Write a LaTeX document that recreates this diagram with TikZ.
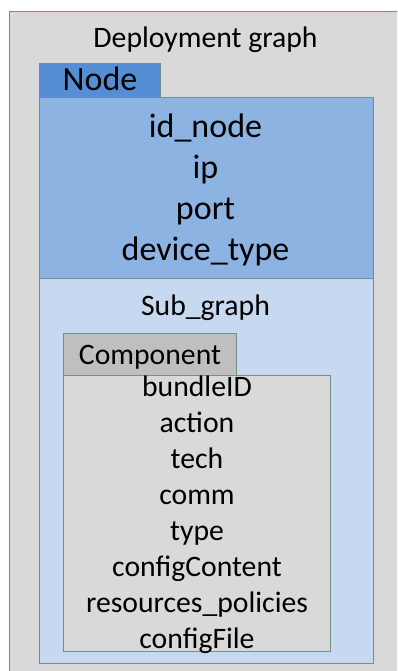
\documentclass[tikz,border=0pt]{standalone}
\usepackage{fontspec}
\setmainfont{Carlito}
\definecolor{edgegray}{HTML}{728F8A}
\definecolor{outergray}{HTML}{D9D9D9}
\definecolor{tabblue}{HTML}{558ED5}
\definecolor{nodeblue}{HTML}{8DB3E2}
\definecolor{subblue}{HTML}{C6D9F1}
\definecolor{tabgray}{HTML}{BFBFBF}
\begin{document}
\begin{tikzpicture}[x=1pt, y=-1pt,
    box/.style={draw=edgegray, line width=0.9pt},
    bigtext/.style={anchor=base, font=\fontsize{34}{40}\selectfont},
    midtext/.style={anchor=base, font=\fontsize{29.7}{36}\selectfont}]
      \useasboundingbox (0, 0) rectangle (397, 671);
      \clip (0, 0) rectangle (397, 671);

      % outer frame
      \draw[box, fill=outergray] (9, 11) rectangle (405, 680);
      \node[midtext] (title) at (205.5, 47.5) {Deployment graph};

      % node
      \draw[box, fill=tabblue] (39, 63) rectangle (160, 97);
      \node[bigtext] (nodetab) at (100, 91) {Node};
      \draw[box, fill=nodeblue] (39, 97) rectangle (373, 278);
      \draw[box, fill=subblue] (39, 278) rectangle (373, 663);
      \foreach \name/\txt [count=\i] in {idnode/id\_node, ip/ip, port/port, devtype/device\_type}
        \node[bigtext] (\name) at (205.5, {96.5 + 41*\i}) {\txt};
      \node[midtext] (subgraph) at (205.5, 315) {Sub\_graph};

      % component
      \draw[box, fill=tabgray] (63, 333) rectangle (236, 375);
      \node[midtext] (comptab) at (150, 364) {Component};
      \draw[box, fill=outergray] (63, 375) rectangle (330, 651);
      \foreach \name/\txt [count=\i] in {bundle/bundleID, action/action, tech/tech, comm/comm,
          type/type, cfgcontent/configContent, policies/resources\_policies, cfgfile/configFile}
        \node[midtext] (\name) at (197, {360.5 + 36*\i}) {\txt};
    \end{tikzpicture}
\end{document}
